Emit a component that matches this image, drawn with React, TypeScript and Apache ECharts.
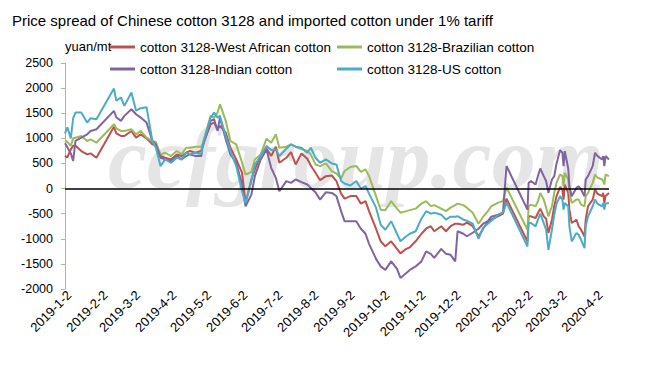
import { useEffect, useRef } from 'react';
import * as echarts from 'echarts';

const FONT = "'Liberation Sans', Arial, sans-serif";

const titleText = 'Price spread of Chinese cotton 3128 and imported cotton under 1% tariff';
const unitLabel = 'yuan/mt';
const seriesNames = [
  'cotton 3128-West African cotton',
  'cotton 3128-Brazilian cotton',
  'cotton 3128-Indian cotton',
  'cotton 3128-US cotton',
];
const seriesColors = ['#C0504D', '#9BBB59', '#8064A2', '#4BACC6'];

const tickDates = [
  '2019-01-02', '2019-02-02', '2019-03-02', '2019-04-02', '2019-05-02', '2019-06-02',
  '2019-07-02', '2019-08-02', '2019-09-02', '2019-10-02', '2019-11-02', '2019-12-02',
  '2020-01-02', '2020-02-02', '2020-03-02', '2020-04-02',
];

const dates = [
  '2019-01-02', '2019-01-04', '2019-01-07', '2019-01-09', '2019-01-11', '2019-01-16', '2019-01-21', '2019-01-24', '2019-01-29', '2019-02-13',
  '2019-02-15', '2019-02-19', '2019-02-22', '2019-02-28', '2019-03-04', '2019-03-08', '2019-03-13', '2019-03-18', '2019-03-21', '2019-03-25',
  '2019-03-29', '2019-04-03', '2019-04-08', '2019-04-12', '2019-04-16', '2019-04-19', '2019-04-24', '2019-04-29', '2019-04-30', '2019-05-07',
  '2019-05-10', '2019-05-13', '2019-05-15', '2019-05-20', '2019-05-24', '2019-05-29', '2019-06-03', '2019-06-06', '2019-06-11', '2019-06-14',
  '2019-06-19', '2019-06-24', '2019-06-28', '2019-07-02', '2019-07-05', '2019-07-11', '2019-07-15', '2019-07-19', '2019-07-24', '2019-07-29',
  '2019-08-01', '2019-08-05', '2019-08-09', '2019-08-14', '2019-08-19', '2019-08-23', '2019-08-27', '2019-08-30', '2019-09-04', '2019-09-09',
  '2019-09-13', '2019-09-17', '2019-09-20', '2019-09-26', '2019-09-30', '2019-10-04', '2019-10-09', '2019-10-14', '2019-10-17', '2019-10-22',
  '2019-10-25', '2019-10-30', '2019-11-04', '2019-11-08', '2019-11-12', '2019-11-15', '2019-11-21', '2019-11-25', '2019-11-29', '2019-12-03',
  '2019-12-05', '2019-12-10', '2019-12-13', '2019-12-18', '2019-12-23', '2019-12-27', '2019-12-31', '2020-01-03', '2020-01-09', '2020-01-13',
  '2020-01-16', '2020-02-03', '2020-02-04', '2020-02-06', '2020-02-10', '2020-02-12', '2020-02-14', '2020-02-17', '2020-02-19', '2020-02-21',
  '2020-02-24', '2020-02-26', '2020-02-28', '2020-03-02', '2020-03-04', '2020-03-05', '2020-03-06', '2020-03-09', '2020-03-10', '2020-03-12',
  '2020-03-16', '2020-03-18', '2020-03-20', '2020-03-23', '2020-03-24', '2020-03-26', '2020-03-30', '2020-04-01', '2020-04-03', '2020-04-07',
  '2020-04-08', '2020-04-09', '2020-04-10', '2020-04-13',
];

const westAfrican = [
  650, 620, 780, 850, 850, 747, 680, 700, 613, 1230,
  1100, 1047, 1047, 1147, 1013, 1080, 1000, 880, 860, 647,
  613, 580, 680, 647, 713, 747, 713, 747, 860, 1280,
  1313, 1180, 1247, 1113, 813, 580, 313, -287, 180, 380,
  680, 793, 647, 833, 513, 613, 727, 480, 700, 593,
  460, 313, 167, 247, 260, 150, -100, -200, -150, -150,
  -300, -250, -450, -800, -1050, -1150, -1050, -1200, -1290, -1200,
  -1170, -1050, -900, -800, -750, -850, -750, -850, -750, -700,
  -700, -720, -680, -750, -950, -800, -650, -620, -550, -500,
  -200, -1053, -553, -553, -587, -487, -400, -553, -600, -887,
  -620, -353, -150, 30, -20, -220, 80, -87, -420, -687,
  -620, -753, -820, -953, -620, -353, -220, -20, -100, -153,
  -87, -287, -150, -87,
];

const brazilian = [
  960, 930, 850, 1000, 1013, 1047, 947, 980, 913, 1280,
  1200, 1147, 1147, 1180, 1080, 1147, 1013, 947, 927, 680,
  713, 647, 747, 680, 813, 813, 833, 833, 880, 1447,
  1413, 1513, 1680, 1347, 947, 880, 513, 280, 330, 580,
  680, 993, 913, 1080, 813, 833, 880, 833, 780, 747,
  680, 480, 447, 500, 347, 300, 200, 350, 430, 450,
  330, 380, 250, -150, -420, -430, -250, -400, -480, -450,
  -430, -400, -300, -250, -350, -330, -400, -450, -380, -330,
  -300, -330, -380, -480, -700, -560, -450, -350, -280, -250,
  20, -820, -353, -320, -353, -253, -87, -220, -380, -553,
  -353, -87, 120, 280, 247, 47, 313, 180, -87, -287,
  -220, -220, -320, -353, -153, -87, 113, 280, 220, 180,
  147, 80, 280, 247,
];

const indian = [
  900, 820, 700, 550, 950, 1013, 1080, 1147, 1180, 1547,
  1420, 1347, 1447, 1580, 1480, 1413, 1313, 947, 880, 613,
  580, 547, 647, 580, 647, 680, 647, 647, 813, 1347,
  1380, 1147, 1413, 980, 680, 513, 80, -353, -120, 247,
  580, 780, 413, 213, -53, 147, 113, 180, 127, 80,
  13, -73, -220, -73, -87, -150, -450, -650, -650, -650,
  -800, -900, -1100, -1400, -1550, -1620, -1450, -1600, -1780, -1680,
  -1620, -1550, -1450, -1250, -1300, -1380, -1200, -1300, -1320, -1450,
  -850, -900, -950, -880, -800, -700, -650, -560, -520, -480,
  450, -420, 113, 147, 80, 250, 400, 247, 150, -87,
  180, 247, 500, 767, 713, 447, 747, 400, 47, -153,
  13, 47, -20, -153, 180, 247, 447, 713, 650, 580,
  647, 447, 647, 580,
];

const us = [
  1100, 1220, 1000, 1400, 1513, 1513, 1313, 1400, 1380, 1990,
  1750, 1813, 1647, 1913, 1550, 1600, 1620, 950, 813, 447,
  580, 513, 613, 580, 713, 680, 713, 680, 847, 1413,
  1513, 1413, 1447, 1047, 747, 447, -53, -287, 147, 480,
  647, 847, 767, 780, 647, 793, 880, 833, 813, 713,
  813, 613, 513, 580, 500, 480, 150, 100, 60, 150,
  0, 50, -100, -380, -720, -820, -650, -900, -1050, -950,
  -900, -850, -600, -450, -500, -480, -520, -620, -560, -560,
  -550, -620, -640, -700, -1000, -780, -700, -640, -520, -480,
  -280, -1153, -687, -687, -753, -620, -500, -687, -820, -1220,
  -820, -520, -300, -150, -220, -420, -287, -353, -753, -1053,
  -887, -920, -1020, -1187, -753, -553, -353, -220, -300, -353,
  -287, -420, -300, -287,
];

const seriesValues = [westAfrican, brazilian, indian, us];

const toTime = (s: string) => {
  const [y, m, d] = s.split('-').map(Number);
  return Date.UTC(y, m - 1, d);
};
const fmtDate = (v: number) => {
  const d = new Date(v);
  return `${d.getUTCFullYear()}-${d.getUTCMonth() + 1}-${d.getUTCDate()}`;
};

export default function App() {
  const ref = useRef<HTMLDivElement>(null);

  useEffect(() => {
    if (!ref.current) return;
    const chart = echarts.init(ref.current, null, { renderer: 'svg' });

    const series: any[] = seriesValues.map((vals, i) => ({
      name: seriesNames[i],
      type: 'line',
      data: dates.map((d, j) => [toTime(d), vals[j]]),
      showSymbol: false,
      symbol: 'none',
      color: seriesColors[i],
      lineStyle: { width: 2, color: seriesColors[i] },
      z: 3,
    }));
    series[3].markLine = {
      silent: true,
      symbol: ['none', 'none'],
      label: { show: false },
      lineStyle: { color: '#000', width: 1.5, type: 'solid' },
      data: [{ yAxis: 0 }],
    };

    const legendCommon = {
      orient: 'vertical',
      top: 40,
      itemGap: 8,
      itemWidth: 25,
      itemHeight: 3,
      icon: 'rect',
      padding: 0,
      selectedMode: false,
      textStyle: { color: '#000', fontSize: 13.5, fontFamily: FONT },
    };

    chart.setOption({
      animation: false,
      backgroundColor: '#fff',
      title: {
        text: titleText,
        left: 7,
        top: 8,
        textStyle: { color: '#000', fontSize: 15, fontWeight: 'normal', fontFamily: FONT },
      },
      legend: [
        { ...legendCommon, left: 110, data: [seriesNames[0], seriesNames[2]] },
        { ...legendCommon, left: 337, data: [seriesNames[1], seriesNames[3]] },
      ],
      grid: { left: 65, right: 62, top: 63, bottom: 99, outerBoundsMode: 'none' },
      xAxis: {
        type: 'value',
        min: toTime('2019-01-02'),
        max: toTime('2020-04-13'),
        axisLine: { show: false, onZero: false },
        axisTick: { show: false },
        splitLine: { show: false },
        axisLabel: {
          customValues: tickDates.map(toTime),
          rotate: 45,
          margin: 8,
          padding: [0, -6, 0, 0],
          color: '#000',
          fontSize: 13,
          fontFamily: FONT,
          hideOverlap: false,
          formatter: (v: number) => fmtDate(v),
        },
      },
      yAxis: {
        type: 'value',
        min: -2000,
        max: 2500,
        interval: 500,
        name: unitLabel,
        nameLocation: 'end',
        nameGap: 17,
        nameTextStyle: { color: '#000', fontSize: 13, fontFamily: FONT, align: 'left', verticalAlign: 'middle' },
        axisLine: { show: true, lineStyle: { color: '#BFB38F', width: 1 } },
        axisTick: { show: true, inside: false, length: 4, lineStyle: { color: '#BFB38F' } },
        splitLine: { show: false },
        axisLabel: {
          color: '#000',
          fontSize: 12.5,
          fontFamily: FONT,
          margin: 12,
          formatter: (v: number) => String(v),
        },
      },
      graphic: [
        {
          type: 'text',
          left: 108,
          top: 114,
          z: -10,
          silent: true,
          style: {
            text: 'ccfgroup.com',
            fontSize: 88,
            fontStyle: 'italic',
            fontWeight: 'bold',
            fontFamily: "'Liberation Serif', 'DejaVu Serif', serif",
            fill: '#e5e5e5',
          },
        },
      ],
      series,
    });

    return () => chart.dispose();
  }, []);

  return <div ref={ref} style={{ position: 'absolute', left: 0, top: 0, width: 671, height: 388 }} />;
}
